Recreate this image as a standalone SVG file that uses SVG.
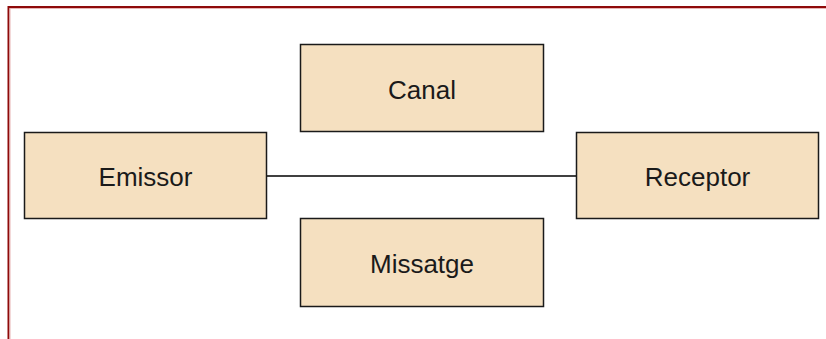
<svg xmlns="http://www.w3.org/2000/svg" width="826" height="339" viewBox="0 0 826 339">
<style>
.box{fill:#f5e0c0;stroke:#1a1a1a;stroke-width:1.5}
.lbl{font-family:"Liberation Sans",Arial,sans-serif;font-size:26px;fill:#1a1a1a;text-anchor:middle}
.conn{stroke:#000;stroke-width:1.5;fill:none}
</style>
<rect x="0" y="0" width="826" height="339" fill="#fff"/>
<path d="M8.5,345 V7 H830" fill="none" stroke="#8e0a0a" stroke-width="2"/>
<path d="M10,345 V8.5 H830" fill="none" stroke="#e8b4b4" stroke-width="1"/>
<g id="connectors">
<line class="conn" x1="267" y1="176" x2="576" y2="176"/>
</g>
<g id="canal">
<rect class="box" x="300.5" y="44.5" width="243" height="87"/>
<text class="lbl" x="422" y="98.5">Canal</text>
</g>
<g id="emissor">
<rect class="box" x="24.5" y="132.5" width="242" height="86"/>
<text class="lbl" x="145.5" y="185.5">Emissor</text>
</g>
<g id="receptor">
<rect class="box" x="576.5" y="132.5" width="242" height="86"/>
<text class="lbl" x="697.5" y="185.5">Receptor</text>
</g>
<g id="missatge">
<rect class="box" x="300.5" y="218.5" width="243" height="88"/>
<text class="lbl" x="422" y="273">Missatge</text>
</g>
</svg>
